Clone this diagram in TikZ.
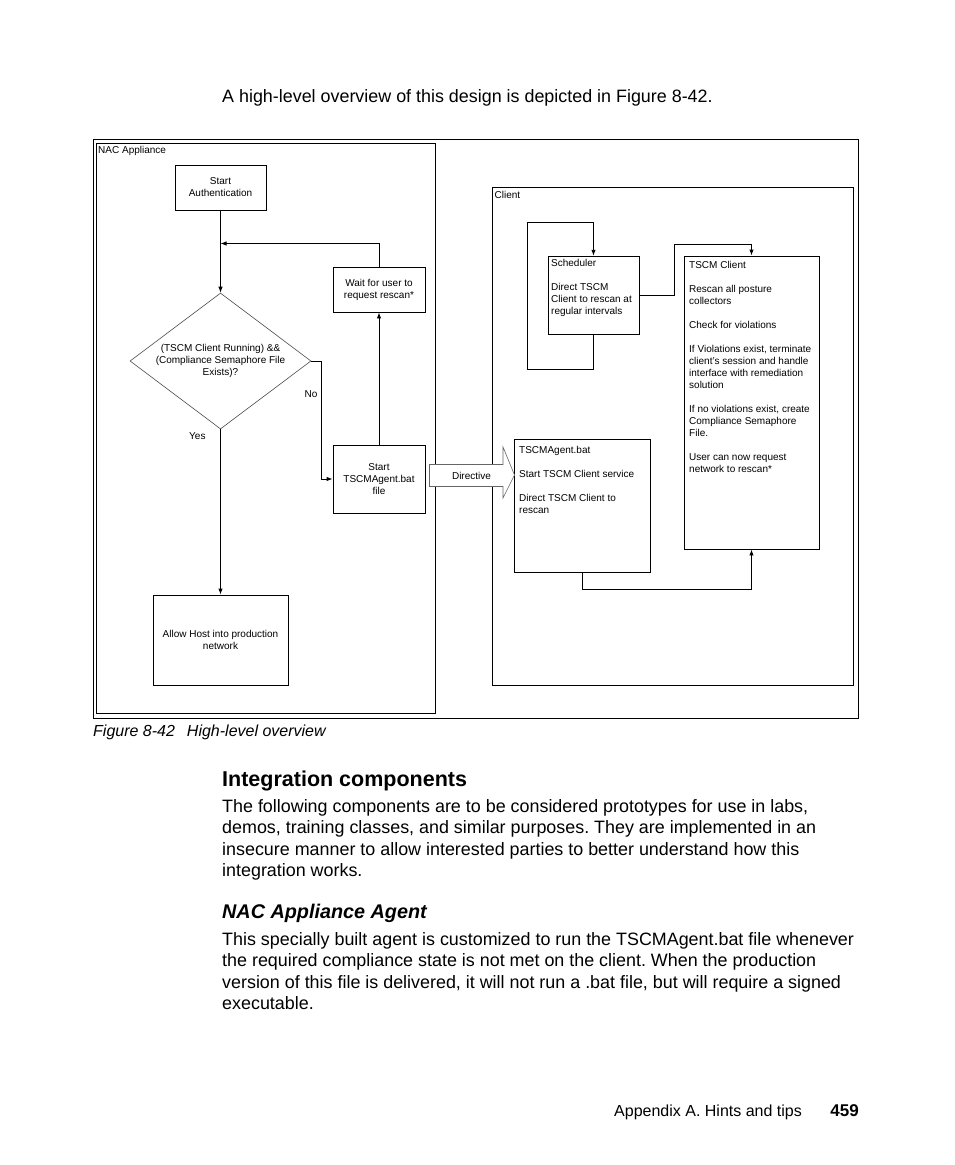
\documentclass[tikz,border=0pt]{standalone}
\usepackage{fontspec}
\setmainfont{Liberation Sans}
\usetikzlibrary{arrows.meta,shapes.geometric}
\begin{document}
\frenchspacing
\begin{tikzpicture}[x=1pt,y=-1pt,
  box/.style={draw=black, line width=0.9pt, inner sep=0pt},
  ctext/.style={align=center, font=\fontsize{10}{12}\selectfont},
  ltext/.style={align=left, anchor=north west, inner sep=0pt, font=\fontsize{10}{12}\selectfont},
  smalllbl/.style={inner sep=0pt, font=\fontsize{10}{12}\selectfont},
  conn/.style={line width=0.9pt},
  arr/.style={conn, -{Latex[length=6pt,width=4.5pt]}},
  frame/.style={draw=black, line width=0.9pt},
  body/.style={anchor=base west, inner sep=0pt, font=\fontsize{17.9}{21}\selectfont},
]
\useasboundingbox[fill=white] (0,0) rectangle (954,1165);

% intro line
\node[body] (intro) at (222,102.5) {A high-level overview of this design is depicted in Figure 8-42.};

% frames
\draw[frame] (93,139) rectangle (858,718);
\draw[frame] (96,143) rectangle (435.5,713);
\draw[frame] (492.5,187.5) rectangle (853,685);
\node[smalllbl, anchor=base west] (naclbl) at (98,153.5) {NAC Appliance};
\node[smalllbl, anchor=base west] (clientlbl) at (494.5,198.5) {Client};

% NAC appliance nodes
\node[box, ctext, minimum width=91pt, minimum height=45pt] (start) at (220.5,187.5) {Start\\Authentication};
\node[box, ctext, minimum width=92pt, minimum height=45pt] (wait) at (379,289.5) {Wait for user to\\request rescan*};
\node[draw=black!70, line width=0.6pt, diamond, aspect=1.33, inner sep=0pt, minimum width=181pt, minimum height=136pt, ctext] (dia) at (220.5,361) {(TSCM Client Running) \&\&\\(Compliance Semaphore File\\Exists)?};
\node[box, ctext, minimum width=92pt, minimum height=68pt] (agent) at (379,479) {Start\\TSCMAgent.bat\\file};
\node[box, ctext, minimum width=135pt, minimum height=90pt] (allow) at (220.5,640) {Allow Host into production\\network};

\coordinate (junc) at (220.5,243.5);
\draw[arr] (start.south) -- (dia.north);
\draw[arr] (wait.north) |- (junc);
\draw[arr] (dia.east) -- ++(10.5,0) |- (agent.west);
\draw[arr] (agent.north) -- (wait.south);
\draw[arr] (dia.south) -- (allow.north);
\node[smalllbl, anchor=base west] (nolbl) at (304.5,397.5) {No};
\node[smalllbl, anchor=base west] (yeslbl) at (189,439.5) {Yes};

% Client nodes
\node[box, minimum width=91pt, minimum height=78.5pt] (sched) at (593.5,295.5) {};
\node[ltext] (schedtxt) at (551,259) {\rule{0pt}{7.5pt}Scheduler\\[12pt]Direct TSCM\\Client to rescan at\\regular intervals};
\node[box, minimum width=135pt, minimum height=293pt] (tscm) at (751.5,402.5) {};
\node[ltext] (tscmtxt) at (689,261) {\rule{0pt}{7.5pt}TSCM Client\\[12pt]Rescan all posture\\collectors\\[12pt]Check for violations\\[12pt]If Violations exist, terminate\\client's session and handle\\interface with remediation\\solution\\[12pt]If no violations exist, create\\Compliance Semaphore\\File.\\[12pt]User can now request\\network to rescan*};
\node[box, minimum width=136pt, minimum height=132.5pt] (bat) at (582,505.75) {};
\node[ltext] (battxt) at (519,446) {\rule{0pt}{7.5pt}TSCMAgent.bat\\[12pt]Start TSCM Client service\\[12pt]Direct TSCM Client to\\rescan};

\coordinate (l1) at (527,369);
\coordinate (l2) at (527,222);
\coordinate (c1) at (674,244);
\coordinate (c2) at (751.5,589);
\draw[arr] (sched.south) |- (l1) -- (l2) -| (sched.north);
\draw[arr] (sched.east) -| (c1) -| (tscm.north);
\draw[arr] (bat.south) |- (c2) -- (tscm.south);

% Directive arrow
\draw[draw=black!60, line width=0.6pt, fill=white] (429.5,464.5) -- (503,464.5) -- (503,447) -- (514.5,475) -- (503,498) -- (503,486.5) -- (429.5,486.5) -- cycle;
\node[smalllbl] (directive) at (471.5,475.5) {Directive};

% caption
\node[anchor=base west, inner sep=0pt, font=\fontsize{16}{18}\selectfont\itshape] (caption) at (93,736.5) {Figure 8-42\hspace{12pt}High-level overview};

% section heading and text
\node[anchor=base west, inner sep=0pt, font=\fontsize{21.5}{24}\selectfont\bfseries] (h1) at (222,786) {Integration components};
\node[body] (p1a) at (222,812) {The following components are to be considered prototypes for use in labs,};
\node[body] (p1b) at (222,833.5) {demos, training classes, and similar purposes. They are implemented in an};
\node[body] (p1c) at (222,855) {insecure manner to allow interested parties to better understand how this};
\node[body] (p1d) at (222,876.5) {integration works.};

\node[anchor=base west, inner sep=0pt, font=\fontsize{19.8}{23}\selectfont\bfseries\itshape] (h2) at (222,918) {NAC Appliance Agent};
\node[body] (p2a) at (222,945) {This specially built agent is customized to run the TSCMAgent.bat file whenever};
\node[body] (p2b) at (222,966.5) {the required compliance state is not met on the client. When the production};
\node[body] (p2c) at (222,988) {version of this file is delivered, it will not run a .bat file, but will require a signed};
\node[body] (p2d) at (222,1009.5) {executable.};

% footer
\node[anchor=base west, inner sep=0pt, font=\fontsize{16}{18}\selectfont] (foot) at (614,1116) {Appendix A. Hints and tips};
\node[anchor=base east, inner sep=0pt, font=\fontsize{17}{18}\selectfont\bfseries] (pagenum) at (859,1116) {459};
\end{tikzpicture}
\end{document}
